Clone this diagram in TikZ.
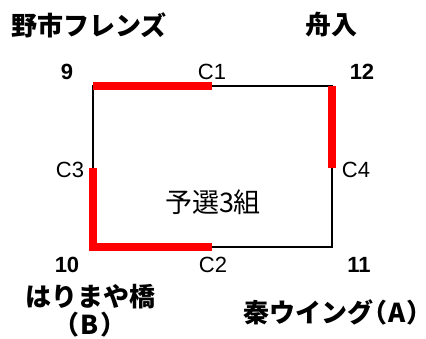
\documentclass[tikz,border=0pt]{standalone}
\usepackage{fontspec}
\setmainfont{Liberation Sans}
\newfontfamily\jpfont{Noto Sans CJK JP}
\newfontfamily\jpparen[RawFeature=+palt]{Noto Sans CJK JP}
\tikzset{
	team/.style={font=\jpfont\bfseries\fontsize{26}{28}\selectfont, inner sep=0pt},
	seed/.style={font=\bfseries\fontsize{22}{24}\selectfont, inner sep=0pt},
	court/.style={font=\fontsize{22}{24}\selectfont, inner sep=0pt},
	loss/.style={draw=black, line width=2pt},
	win/.style={draw=red, line width=8pt}
}

\begin{document}
\begin{tikzpicture}[x=1pt, y=-1pt]
	\useasboundingbox (0, 0) rectangle (426, 338);

	\coordinate (tl) at (93, 86);
	\coordinate (tr) at (332, 86);
	\coordinate (br) at (332, 247);
	\coordinate (bl) at (93, 247);
	\coordinate (c1) at (212, 86);
	\coordinate (c2) at (212, 247);
	\coordinate (c3) at (93, 168);
	\coordinate (c4) at (332, 168);

	\draw[loss]	(tl) -- (tr) -- (br) -- (bl) -- cycle;
	\draw[win]	(tl) -- (c1);
	\draw[win]	(tr) -- (c4);
	\draw[win]	(c3) -- (bl) -- (c2);

	\node[team] (noichi) at (89, 25) {野市フレンズ};
	\node[team] (funairi) at (331, 25) {舟入};
	\node[team] (harimaya) at (90, 297) {はりまや橋};
	\node[team] (harimayaB) at (90, 325) {\jpparen（\kern3pt B\kern3pt）};
	\node[team] (hata) at (332, 312) {秦ウイング\jpparen（\kern2pt A\kern2pt）};

	\node[seed] (s9) at (67, 72) {9};
	\node[seed] (s12) at (362, 72) {12};
	\node[seed] (s10) at (67, 265) {10};
	\node[seed] (s11) at (359, 265) {11};

	\node[court] (lc1) at (212, 72) {C1};
	\node[court] (lc2) at (213, 265) {C2};
	\node[court] (lc3) at (70, 170) {C3};
	\node[court] (lc4) at (356, 170) {C4};

	\node[font=\jpfont\fontsize{27}{29}\selectfont, inner sep=0pt] (group) at (213, 202) {予選3組};
\end{tikzpicture}
\end{document}
